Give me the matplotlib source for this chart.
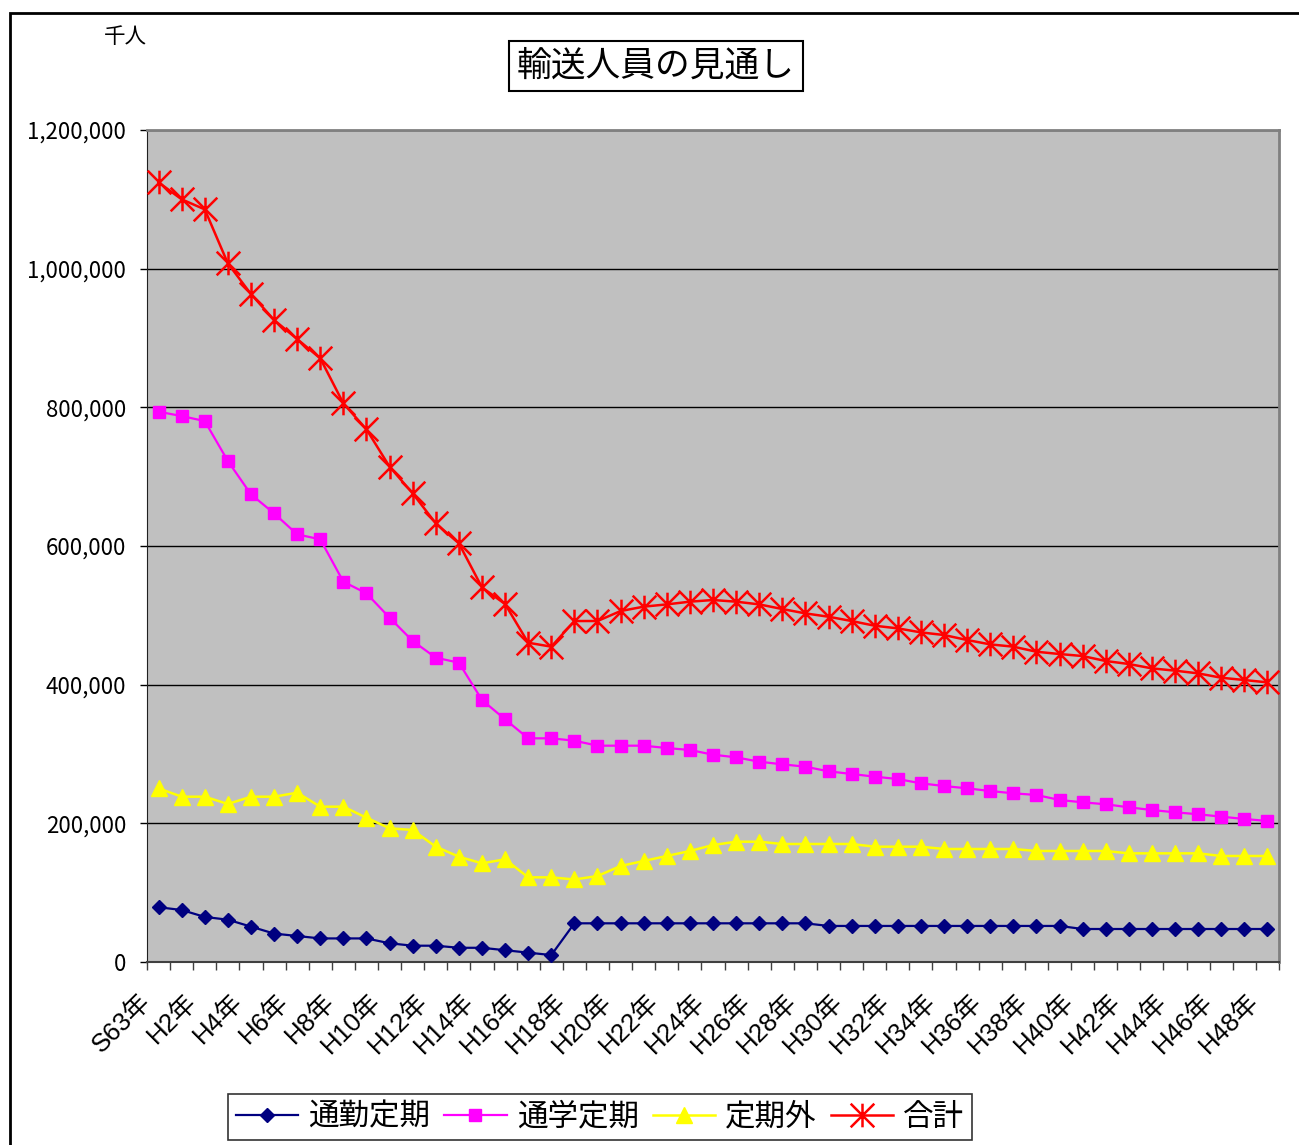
import matplotlib
matplotlib.use("Agg")
import matplotlib.pyplot as plt
from matplotlib.path import Path
from matplotlib.patches import Rectangle
from matplotlib.ticker import FuncFormatter, FixedLocator
import matplotlib.transforms as mtransforms

plt.rcParams['font.family'] = ['Noto Sans CJK JP', 'DejaVu Sans']

# categories: S63, H1 .. H48
years = ['S63年'] + ['H%d年' % i for i in range(1, 49)]

commute = [79000, 75000, 65000, 61000, 51000, 41000, 37500, 34000, 34000, 34000,
           27000, 23500, 23500, 20500, 20500, 17000, 13500, 10000, 55800, 55800,
           55800, 55800, 55800, 55800, 55800, 55800, 55800, 55800, 55800, 52000,
           52000, 52000, 52000, 52000, 52000, 52000, 52000, 52000, 52000, 52000,
           47600, 47600, 47600, 47600, 47600, 47600, 47600, 47600, 47600]

school = [793700, 787400, 780200, 722600, 674500, 647100, 616800, 609600, 548500, 531700,
          496600, 463000, 438900, 431700, 377900, 350000, 322600, 322600, 319200, 312000,
          312000, 312000, 308600, 305800, 299000, 295200, 288900, 285100, 281700, 275000,
          271200, 267300, 263900, 257700, 253800, 250500, 246600, 243300, 240900, 233700,
          230300, 227500, 223100, 219200, 215900, 213100, 209600, 206300, 203400]

other = [250500, 238400, 238400, 227900, 238400, 238400, 244200, 224000, 224000, 208100,
         192800, 190400, 166300, 151900, 142300, 148100, 122100, 122100, 119000, 124000,
         138500, 145700, 152900, 160100, 168700, 173500, 173500, 170200, 170200, 170200,
         170200, 166300, 166300, 166300, 163000, 163000, 163000, 163000, 160100, 160100,
         160100, 160100, 156700, 156700, 156700, 156700, 152900, 152900, 152900]

total = [1124500, 1100000, 1085500, 1007600, 963400, 926000, 898500, 870600, 805700, 768200,
         714400, 675900, 632600, 603800, 540300, 516300, 460500, 454800, 491800, 491800,
         506200, 512500, 515800, 519700, 522100, 519700, 515800, 509100, 502800, 498000,
         491800, 485000, 481200, 475400, 471600, 464400, 458100, 454800, 447500, 444200,
         441300, 434100, 429800, 423500, 420200, 416300, 410000, 406700, 403300]

series_names = ['通勤定期', '通学定期', '定期外', '合計']

# excel style asterisk: X plus vertical bar
star = Path([(-1, -1), (1, 1), (-1, 1), (1, -1), (0, -1), (0, 1)],
            [Path.MOVETO, Path.LINETO, Path.MOVETO, Path.LINETO, Path.MOVETO, Path.LINETO])

fig = plt.figure(figsize=(12.99, 11.45), dpi=100)
ax = fig.add_axes([147 / 1299, 1 - 962 / 1145, (1279 - 147) / 1299, (962 - 130) / 1145])
ax.set_facecolor('#C0C0C0')

x = list(range(len(years)))
ax.plot(x, commute, color='#000080', lw=1.6, marker='D', ms=7, mfc='#000080', mec='#000080',
        label=series_names[0], clip_on=False, zorder=3)
ax.plot(x, school, color='#FF00FF', lw=1.6, marker='s', ms=9, mfc='#FF00FF', mec='#FF00FF',
        label=series_names[1], zorder=3)
ax.plot(x, other, color='#FFFF00', lw=1.8, marker='^', ms=11, mfc='#FFFF00', mec='#FFFF00',
        label=series_names[2], zorder=3)
ax.plot(x, total, color='#FF0000', lw=1.8, marker=star, ms=17, mfc='none', mec='#FF0000',
        mew=1.8, label=series_names[3], zorder=3)

ax.set_xlim(-0.5, len(years) - 0.5)
ax.set_ylim(0, 1200000)
ax.set_yticks(range(0, 1200001, 200000))
ax.yaxis.set_major_formatter(FuncFormatter(lambda v, p: '{:,.0f}'.format(v)))
ax.grid(axis='y', color='black', lw=1)
ax.set_axisbelow(True)

# ticks at category boundaries, labels on every other category
ax.xaxis.set_major_locator(FixedLocator([i - 0.5 for i in range(len(years) + 1)]))
ax.xaxis.set_major_formatter(FuncFormatter(lambda v, p: ''))
ax.xaxis.set_minor_locator(FixedLocator(x[::2]))
ax.set_xticklabels(years[::2], minor=True)
ax.tick_params(axis='x', which='major', length=6, width=1, color='#404040', direction='out')
ax.tick_params(axis='x', which='minor', length=0, pad=26, labelsize=18.5)
ax.tick_params(axis='y', length=5, width=1, pad=10, labelsize=16)
offset = mtransforms.ScaledTranslation(-0.12, 0, fig.dpi_scale_trans)
for lab in ax.get_xticklabels(minor=True):
    lab.set_rotation(45)
    lab.set_ha('right')
    lab.set_va('center')
    lab.set_rotation_mode('anchor')
    lab.set_family(['Liberation Sans', 'Noto Sans CJK JP'])
    lab.set_transform(lab.get_transform() + offset)

for s in ['top', 'right']:
    ax.spines[s].set_color('#808080')
    ax.spines[s].set_linewidth(2)
ax.spines['left'].set_color('#202020')
ax.spines['bottom'].set_color('#404040')
ax.spines['bottom'].set_linewidth(1.5)

# title box and unit
fig.text(656 / 1299, 1 - 66 / 1145, '輸送人員の見通し', fontsize=25, ha='center', va='center',
         bbox=dict(boxstyle='square,pad=0.22', fc='white', ec='black', lw=1.5))
fig.text(125 / 1299, 1 - 37 / 1145, '千人', fontsize=15.5, ha='center', va='center')

# outer chart border (left and top visible)
fig.patches.append(Rectangle((10 / 1299, -0.1), 1.2, 1 - 13 / 1145 + 0.1, transform=fig.transFigure,
                             fill=False, ec='black', lw=2, clip_on=False))

leg = fig.legend(loc='center', bbox_to_anchor=(600 / 1299, 1 - 1117 / 1145), ncol=4,
                 fontsize=22, frameon=True, fancybox=False, edgecolor='black',
                 handlelength=2.05, columnspacing=0.45, handletextpad=0.33, borderpad=0.25,
                 borderaxespad=0)
leg.get_frame().set_linewidth(1.2)

fig.savefig('out.png', dpi=100)
